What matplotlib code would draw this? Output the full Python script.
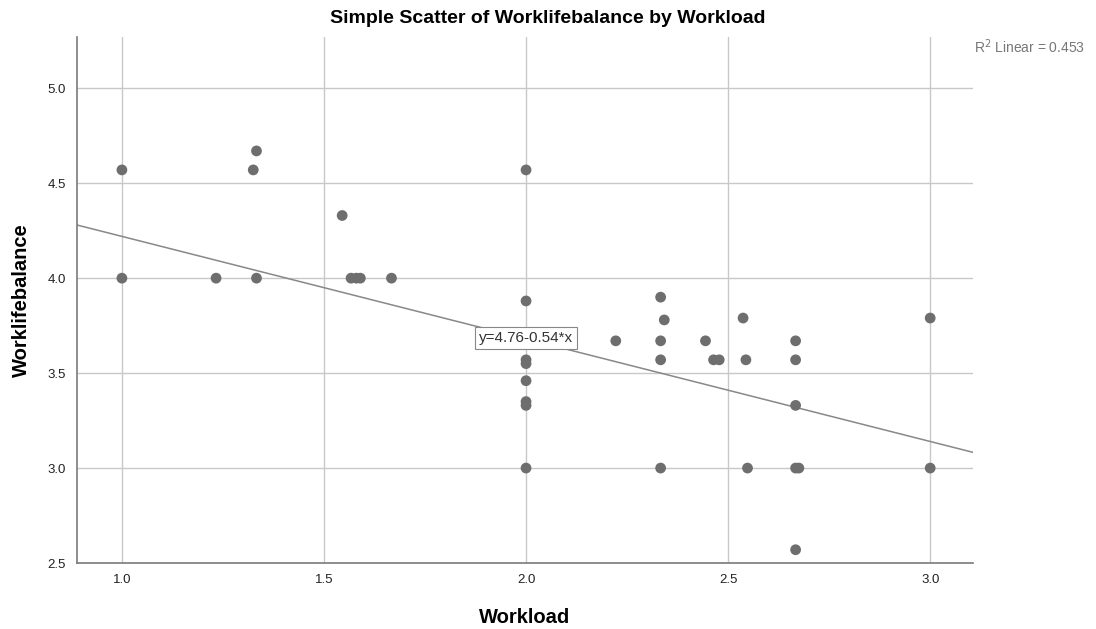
import matplotlib
matplotlib.use("Agg")
import matplotlib.pyplot as plt

plt.rcParams['font.family'] = ['Liberation Sans', 'DejaVu Sans']

workload = [1.0, 1.0, 1.233, 1.325, 1.333, 1.333, 1.545, 1.567, 1.58, 1.59, 1.667,
            2.0, 2.0, 2.0, 2.0, 2.0, 2.0, 2.0, 2.0,
            2.222, 2.333, 2.342, 2.333, 2.333, 2.333,
            2.444, 2.464, 2.478, 2.537, 2.544, 2.548,
            2.667, 2.667, 2.667, 2.667, 2.675, 2.667, 3.0, 3.0]
worklife = [4.57, 4.0, 4.0, 4.57, 4.67, 4.0, 4.33, 4.0, 4.0, 4.0, 4.0,
            4.57, 3.88, 3.57, 3.55, 3.46, 3.35, 3.33, 3.0,
            3.67, 3.90, 3.78, 3.67, 3.57, 3.0,
            3.67, 3.57, 3.57, 3.79, 3.57, 3.0,
            3.67, 3.57, 3.33, 3.0, 3.0, 2.57, 3.79, 3.0]
intercept = 4.76
slope = -0.54
r2 = 0.453
xticks = [1.0, 1.5, 2.0, 2.5, 3.0]
yticks = [2.5, 3.0, 3.5, 4.0, 4.5, 5.0]

fig = plt.figure(figsize=(10.96, 6.29), dpi=100)
ax = fig.add_axes([0.0703, 0.1049, 0.8175, 0.8363])
xmin, xmax = 0.889, 3.106
ymin, ymax = 2.5, 5.27
ax.set_xlim(xmin, xmax)
ax.set_ylim(ymin, ymax)

ax.set_xticks(xticks)
ax.set_yticks(yticks)
ax.set_xticklabels([f"{v:.1f}" for v in xticks])
ax.set_yticklabels([f"{v:.1f}" for v in yticks])
ax.grid(True, color='#c8c8c8', linewidth=1.0)
ax.set_axisbelow(True)
for s in ['top', 'right']:
    ax.spines[s].set_visible(False)
for s in ['left', 'bottom']:
    ax.spines[s].set_color('#7a7a7a')
    ax.spines[s].set_linewidth(1.2)
ax.tick_params(length=0, labelsize=9.5, colors='#222222', pad=8)

ax.plot([xmin, xmax], [intercept + slope * xmin, intercept + slope * xmax],
        color='#888888', linewidth=1.1, zorder=2)
ax.scatter(workload, worklife, s=60, color='#6e6e6e', edgecolors='none', zorder=3)

ax.text(2.0, intercept + slope * 2.0 + 0.005, f"y={intercept:.2f}{slope:.2f}*x",
        ha='center', va='center', fontsize=11, color='#333333',
        bbox=dict(boxstyle='square,pad=0.25', facecolor='white', edgecolor='#888888', linewidth=0.8),
        zorder=4)

ax.set_xlabel('Workload', fontsize=14.5, fontweight='bold', labelpad=16)
ax.set_ylabel('Worklifebalance', fontsize=14.5, fontweight='bold', labelpad=12)
fig.text(0.5, 0.971, 'Simple Scatter of Worklifebalance by Workload', ha='center', va='center',
         fontsize=14, fontweight='bold')
fig.text(0.889, 0.925, r'R$^2$ Linear = 0.453', ha='left', va='center', fontsize=10, color='#777777')

fig.savefig('out.png', dpi=100)
